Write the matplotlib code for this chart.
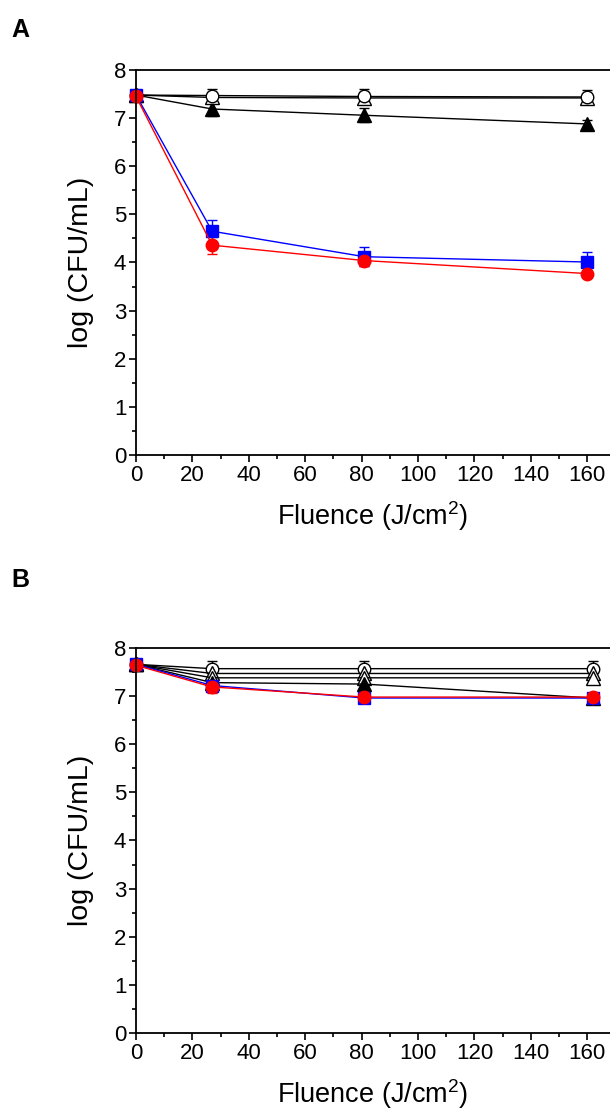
import matplotlib.pyplot as plt
from matplotlib.ticker import MultipleLocator

plt.rcParams['font.family'] = ['Liberation Sans', 'DejaVu Sans']
plt.rcParams['mathtext.default'] = 'regular'

## Panel A data
xA = [0, 27, 81, 160]
a_open_circ = [7.48, 7.47, 7.45, 7.44]
a_open_circ_err = [0.10, 0.14, 0.15, 0.14]
a_open_tri = [7.48, 7.43, 7.42, 7.42]
a_open_tri_err = [0.10, 0.12, 0.12, 0.10]
a_fill_tri = [7.48, 7.19, 7.06, 6.88]
a_fill_tri_err = [0.10, 0.15, 0.15, 0.08]
a_blue_sq = [7.48, 4.65, 4.12, 4.01]
a_blue_sq_err = [0.08, 0.23, 0.20, 0.20]
a_red_circ = [7.45, 4.36, 4.04, 3.77]
a_red_circ_err = [0.08, 0.18, 0.12, 0.05]

## Panel B data
xB = [0, 27, 81, 162]
b_open_circ = [7.66, 7.57, 7.57, 7.57]
b_open_circ_err = [0.08, 0.15, 0.15, 0.15]
b_open_tri1 = [7.66, 7.47, 7.47, 7.47]
b_open_tri1_err = [0.08, 0.12, 0.12, 0.12]
b_open_tri2 = [7.66, 7.38, 7.38, 7.38]
b_open_tri2_err = [0.08, 0.10, 0.10, 0.10]
b_fill_tri = [7.66, 7.28, 7.25, 6.96]
b_fill_tri_err = [0.08, 0.10, 0.12, 0.10]
b_blue_sq = [7.66, 7.22, 6.96, 6.96]
b_blue_sq_err = [0.08, 0.10, 0.08, 0.10]
b_red_circ = [7.64, 7.19, 6.98, 6.98]
b_red_circ_err = [0.08, 0.12, 0.10, 0.08]

ftsz = 16  # tick font size
lbsz = 19.5  # axis label size
msz = 9  # marker size

def draw_series(ax, x, y, err, marker, color, filled=True, ms=msz):
    face = color if filled else 'white'
    ax.errorbar(x, y, yerr=err, marker=marker, color=color, mfc=face, mec=color,
                ms=ms, lw=1.0, elinewidth=1.0, capsize=3.5, capthick=1.0, clip_on=False)

def style_axes(ax):
    ax.set_xlim(0, 168.1)
    ax.set_ylim(0, 8)
    ax.xaxis.set_major_locator(MultipleLocator(20))
    ax.xaxis.set_minor_locator(MultipleLocator(10))
    ax.yaxis.set_major_locator(MultipleLocator(1))
    ax.yaxis.set_minor_locator(MultipleLocator(0.5))
    ax.tick_params(which='major', direction='out', length=5, width=1.2, labelsize=ftsz, pad=2)
    ax.tick_params(which='minor', direction='out', length=3, width=1.2)
    ax.spines['right'].set_visible(False)
    for s in ['left', 'bottom', 'top']:
        ax.spines[s].set_linewidth(1.3)
    ax.set_xlabel('Fluence (J/cm$^{2}$)', fontsize=lbsz, labelpad=10)
    ax.set_ylabel('log (CFU/mL)', fontsize=20.5, labelpad=14)

fig = plt.figure(figsize=(6.10, 11.17), dpi=100)
axA = fig.add_axes([0.223, 0.5927, 0.777, 0.3446])
axB = fig.add_axes([0.223, 0.0752, 0.777, 0.3447])

draw_series(axA, xA, a_fill_tri, a_fill_tri_err, '^', 'black', ms=10)
draw_series(axA, xA, a_open_tri, a_open_tri_err, '^', 'black', filled=False, ms=10)
draw_series(axA, xA, a_open_circ, a_open_circ_err, 'o', 'black', filled=False)
draw_series(axA, xA, a_blue_sq, a_blue_sq_err, 's', 'blue')
draw_series(axA, xA, a_red_circ, a_red_circ_err, 'o', 'red')
style_axes(axA)

draw_series(axB, xB, b_open_circ, b_open_circ_err, 'o', 'black', filled=False)
draw_series(axB, xB, b_open_tri1, b_open_tri1_err, '^', 'black', filled=False, ms=10)
draw_series(axB, xB, b_open_tri2, b_open_tri2_err, '^', 'black', filled=False, ms=10)
draw_series(axB, xB, b_fill_tri, b_fill_tri_err, '^', 'black', ms=10)
draw_series(axB, xB, b_blue_sq, b_blue_sq_err, 's', 'blue')
draw_series(axB, xB, b_red_circ, b_red_circ_err, 'o', 'red')
style_axes(axB)

fig.text(0.018, 0.973, 'A', fontsize=18, fontweight='bold', va='center')
fig.text(0.018, 0.481, 'B', fontsize=18, fontweight='bold', va='center')

fig.savefig('out.png', dpi=100)
